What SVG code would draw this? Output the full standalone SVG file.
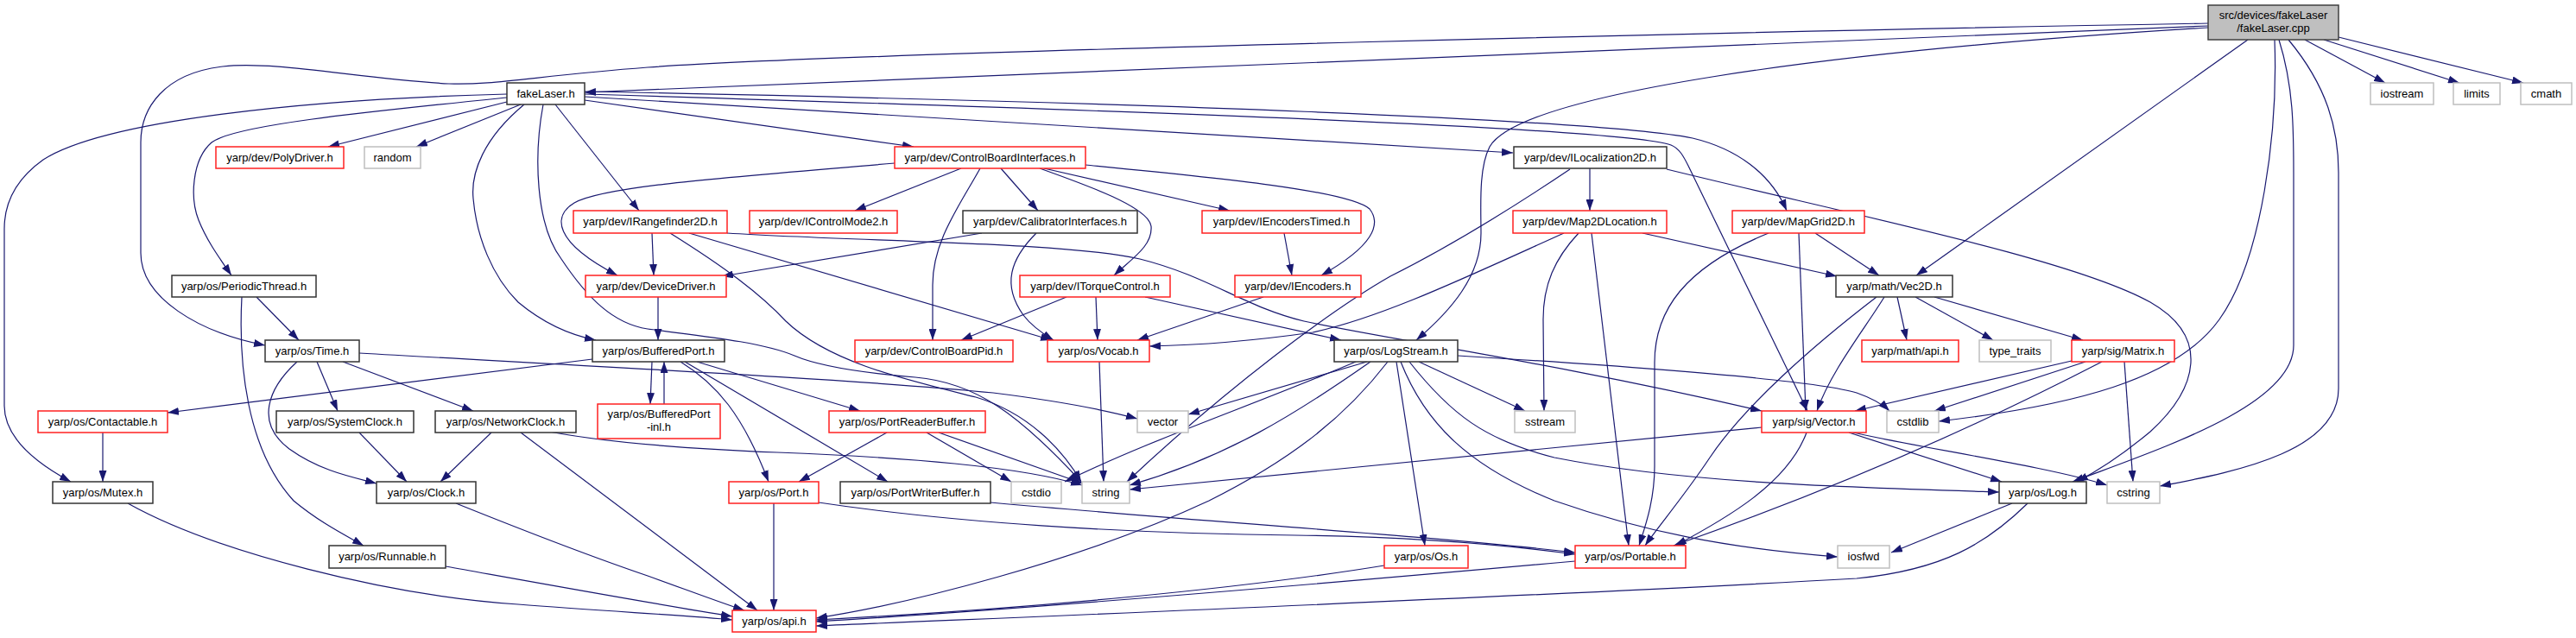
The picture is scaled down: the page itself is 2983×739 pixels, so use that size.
<svg xmlns="http://www.w3.org/2000/svg" width="2983" height="739" viewBox="0 0 2983 739">
<style>
.node rect{fill:#fff;stroke-width:1.5}
.b rect{stroke:#333}
.r rect{stroke:#ff2020}
.g rect{stroke:#bfbfbf}
.root rect{fill:#bfbfbf;stroke:#404040}
text{font-family:"Liberation Sans",Arial,sans-serif;font-size:13px;fill:#000;text-anchor:middle}
#edges path{fill:none;stroke:#191970;stroke-width:1.2;marker-end:url(#arr)}
</style>
<defs>
<marker id="arr" viewBox="0 0 13 9" refX="13" refY="4.5" markerWidth="13" markerHeight="9" markerUnits="userSpaceOnUse" orient="auto"><path d="M0,0 L13,4.5 L0,9 z" fill="#191970"/></marker>
</defs>
<rect width="2983" height="739" fill="#fff"/>
<g id="edges">
<path d="M2557,30 L677,107"/>
<path d="M2557,27 C2100,35 1000,60 750,78 C620,88 570,99 520,97 C420,92 320,70 258,77 C190,85 163,125 163,165 L163,293 C163,345 230,385 307,400"/>
<path d="M2557,32 C2100,60 1760,110 1725,170 C1712,195 1715,240 1715,270 C1715,320 1680,360 1640,394"/>
<path d="M2603,46 L2219,319"/>
<path d="M2634,46 C2638,150 2620,300 2570,370 C2520,440 2400,470 2245,488"/>
<path d="M2639,46 C2656,100 2656,150 2656,200 L2656,400 C2656,470 2500,520 2400,558"/>
<path d="M2650,46 C2695,100 2708,150 2708,200 L2708,450 C2708,520 2600,545 2501,563"/>
<path d="M2669,46 L2762,96"/>
<path d="M2691,46 L2848,96"/>
<path d="M2708,43 L2922,96"/>
<path d="M587,109 C350,115 120,140 50,185 C15,210 5,240 5,265 L5,470 C5,500 30,530 82,558"/>
<path d="M587,113 C420,130 270,145 245,165 C222,185 220,230 230,255 C240,280 255,300 268,319"/>
<path d="M587,118 L380,170"/>
<path d="M603,121 L482,170"/>
<path d="M607,121 C560,160 545,200 548,230 C552,275 570,320 600,350 C630,375 660,388 690,394"/>
<path d="M629,121 C618,180 620,260 650,300 C680,345 710,375 750,381 C800,388 880,395 920,412 C950,425 1000,432 1060,437 C1130,443 1180,480 1252,558"/>
<path d="M643,121 L740,244"/>
<path d="M677,116 L1058,170"/>
<path d="M677,112 L1752,177"/>
<path d="M677,109 C1300,128 1880,148 1935,168 C1945,172 1950,182 1955,192 L2093,476"/>
<path d="M677,106 C1300,118 1850,138 1960,160 C2010,172 2050,200 2069,244"/>
<path d="M1036,189 C850,205 700,215 665,235 C640,250 640,280 715,319"/>
<path d="M1113,195 L990,244"/>
<path d="M1135,195 C1110,240 1080,280 1080,330 L1080,394"/>
<path d="M1159,195 L1202,244"/>
<path d="M1204,195 C1260,215 1330,240 1333,262 C1335,285 1310,300 1290,319"/>
<path d="M1209,195 L1424,244"/>
<path d="M1257,191 C1400,205 1560,220 1586,242 C1600,260 1590,285 1530,319"/>
<path d="M1841,195 L1841,244"/>
<path d="M1818,196 C1760,235 1690,280 1610,320 C1540,360 1420,450 1305,558"/>
<path d="M1930,196 C2150,250 2400,300 2490,350 C2560,390 2545,450 2490,500 C2460,525 2430,545 2405,558"/>
<path d="M1811,270 C1700,320 1600,368 1520,385 C1450,395 1380,400 1331,401"/>
<path d="M1828,270 C1800,300 1787,330 1787,370 L1788,476"/>
<path d="M1843,270 L1886,632"/>
<path d="M1902,270 L2127,320"/>
<path d="M2048,270 C1950,310 1916,360 1916,420 L1916,540 C1916,580 1905,610 1898,632"/>
<path d="M2083,270 L2091,476"/>
<path d="M2102,270 L2176,319"/>
<path d="M2173,344 C2100,400 2020,470 1980,530 C1950,575 1920,610 1905,632"/>
<path d="M2182,344 C2160,380 2120,430 2104,476"/>
<path d="M2197,344 L2208,394"/>
<path d="M2218,344 L2308,394"/>
<path d="M2240,344 L2412,394"/>
<path d="M2399,418 L2148,476"/>
<path d="M2415,419 L2240,476"/>
<path d="M2434,419 Q2200,540 1938,632"/>
<path d="M2460,419 L2470,558"/>
<path d="M2040,495 L1308,567"/>
<path d="M2092,501 C2070,560 2000,600 1940,632"/>
<path d="M2141,501 L2318,558"/>
<path d="M2146,501 C2230,520 2370,540 2440,562"/>
<path d="M1583,419 L1376,480"/>
<path d="M1643,419 L1766,476"/>
<path d="M1688,412 C1900,425 2100,440 2150,455 C2170,462 2180,468 2188,476"/>
<path d="M1570,419 C1450,470 1330,510 1233,558"/>
<path d="M1587,419 C1500,480 1420,530 1308,562"/>
<path d="M1607,419 C1560,480 1500,530 1400,580 C1250,650 1050,700 945,716"/>
<path d="M1617,419 L1650,632"/>
<path d="M1622,419 C1650,490 1700,540 1800,580 C1900,615 2000,635 2128,645"/>
<path d="M1632,419 C1680,480 1720,510 1800,530 C1950,560 2150,565 2315,570"/>
<path d="M1235,344 L1113,394"/>
<path d="M1269,344 L1271,394"/>
<path d="M1326,344 L1553,394"/>
<path d="M1463,344 L1317,394"/>
<path d="M1487,270 L1496,319"/>
<path d="M1137,270 L836,320"/>
<path d="M1200,270 C1170,300 1160,330 1185,365 C1195,378 1210,388 1220,394"/>
<path d="M755,270 L757,319"/>
<path d="M776,270 C840,310 880,340 910,372 C960,420 1050,440 1130,460 C1190,478 1230,520 1252,558"/>
<path d="M798,270 L1218,394"/>
<path d="M842,270 C1000,280 1230,280 1320,300 C1400,320 1440,355 1510,372 C1600,392 1800,420 2040,476"/>
<path d="M762,344 L762,394"/>
<path d="M755,419 L753,468"/>
<path d="M769,468 L769,419"/>
<path d="M686,416 L194,478"/>
<path d="M788,419 C830,445 860,480 890,558"/>
<path d="M793,419 L1028,558"/>
<path d="M807,419 L996,476"/>
<path d="M1027,501 L925,558"/>
<path d="M1073,501 L1171,558"/>
<path d="M1087,501 L1254,560"/>
<path d="M896,583 L896,707"/>
<path d="M948,582 C1100,605 1300,618 1500,620 C1650,622 1750,632 1824,642"/>
<path d="M1147,582 C1400,605 1650,620 1824,640"/>
<path d="M569,501 L510,558"/>
<path d="M603,501 L877,707"/>
<path d="M636,500 C700,512 800,520 900,524 C1050,530 1180,540 1253,562"/>
<path d="M344,419 C310,450 295,490 335,520 C370,545 405,552 436,560"/>
<path d="M367,419 L391,476"/>
<path d="M397,419 L548,476"/>
<path d="M416,409 C700,425 1000,440 1150,455 C1230,465 1280,475 1317,485"/>
<path d="M416,501 L471,558"/>
<path d="M297,344 L346,394"/>
<path d="M280,344 C276,420 285,520 340,580 C370,605 400,620 421,632"/>
<path d="M119,501 L119,558"/>
<path d="M148,583 C250,640 450,690 600,700 C700,708 800,713 848,718"/>
<path d="M528,583 C620,620 700,650 750,667 C800,685 840,700 862,707"/>
<path d="M516,656 C650,680 760,700 848,714"/>
<path d="M1603,655 C1450,680 1200,705 945,718"/>
<path d="M1824,650 C1600,670 1200,705 945,720"/>
<path d="M2348,583 C2300,630 2250,660 2150,670 C1800,690 1300,710 945,725"/>
<path d="M2330,583 L2190,640"/>
<path d="M1273,419 L1278,558"/>
</g>
<g id="n_cpp" class="node root"><rect x="2557" y="6" width="151" height="40"/><text x="2632.5" y="21.5">src/devices/fakeLaser</text><text x="2632.5" y="36.5">/fakeLaser.cpp</text></g>
<g id="n_fakeLaser_h" class="node b"><rect x="587" y="96" width="90" height="25"/><text x="632" y="112.5">fakeLaser.h</text></g>
<g id="n_iostream" class="node g"><rect x="2745" y="96" width="73" height="25"/><text x="2781.5" y="112.5">iostream</text></g>
<g id="n_limits" class="node g"><rect x="2841" y="96" width="54" height="25"/><text x="2868" y="112.5">limits</text></g>
<g id="n_cmath" class="node g"><rect x="2919" y="96" width="59" height="25"/><text x="2948.5" y="112.5">cmath</text></g>
<g id="n_PolyDriver" class="node r"><rect x="250" y="170" width="148" height="25"/><text x="324" y="186.5">yarp/dev/PolyDriver.h</text></g>
<g id="n_random" class="node g"><rect x="422" y="170" width="65" height="25"/><text x="454.5" y="186.5">random</text></g>
<g id="n_ControlBoardInterfaces" class="node r"><rect x="1036" y="170" width="221" height="25"/><text x="1146.5" y="186.5">yarp/dev/ControlBoardInterfaces.h</text></g>
<g id="n_ILocalization2D" class="node b"><rect x="1753" y="170" width="177" height="25"/><text x="1841.5" y="186.5">yarp/dev/ILocalization2D.h</text></g>
<g id="n_IRangefinder2D" class="node r"><rect x="664" y="244" width="178" height="26"/><text x="753" y="261">yarp/dev/IRangefinder2D.h</text></g>
<g id="n_IControlMode2" class="node r"><rect x="868" y="244" width="171" height="26"/><text x="953.5" y="261">yarp/dev/IControlMode2.h</text></g>
<g id="n_CalibratorInterfaces" class="node b"><rect x="1115" y="244" width="202" height="26"/><text x="1216" y="261">yarp/dev/CalibratorInterfaces.h</text></g>
<g id="n_IEncodersTimed" class="node r"><rect x="1392" y="244" width="184" height="26"/><text x="1484" y="261">yarp/dev/IEncodersTimed.h</text></g>
<g id="n_Map2DLocation" class="node r"><rect x="1752" y="244" width="178" height="26"/><text x="1841" y="261">yarp/dev/Map2DLocation.h</text></g>
<g id="n_MapGrid2D" class="node r"><rect x="2006" y="244" width="153" height="26"/><text x="2082.5" y="261">yarp/dev/MapGrid2D.h</text></g>
<g id="n_PeriodicThread" class="node b"><rect x="199" y="319" width="167" height="25"/><text x="282.5" y="335.5">yarp/os/PeriodicThread.h</text></g>
<g id="n_DeviceDriver" class="node r"><rect x="678" y="319" width="163" height="25"/><text x="759.5" y="335.5">yarp/dev/DeviceDriver.h</text></g>
<g id="n_ITorqueControl" class="node r"><rect x="1181" y="319" width="174" height="25"/><text x="1268" y="335.5">yarp/dev/ITorqueControl.h</text></g>
<g id="n_IEncoders" class="node r"><rect x="1430" y="319" width="146" height="25"/><text x="1503" y="335.5">yarp/dev/IEncoders.h</text></g>
<g id="n_Vec2D" class="node b"><rect x="2126" y="319" width="135" height="25"/><text x="2193.5" y="335.5">yarp/math/Vec2D.h</text></g>
<g id="n_Time" class="node b"><rect x="307" y="394" width="109" height="25"/><text x="361.5" y="410.5">yarp/os/Time.h</text></g>
<g id="n_BufferedPort" class="node b"><rect x="686" y="394" width="153" height="25"/><text x="762.5" y="410.5">yarp/os/BufferedPort.h</text></g>
<g id="n_ControlBoardPid" class="node r"><rect x="990" y="394" width="183" height="25"/><text x="1081.5" y="410.5">yarp/dev/ControlBoardPid.h</text></g>
<g id="n_Vocab" class="node r"><rect x="1213" y="394" width="118" height="25"/><text x="1272" y="410.5">yarp/os/Vocab.h</text></g>
<g id="n_LogStream" class="node b"><rect x="1545" y="394" width="143" height="25"/><text x="1616.5" y="410.5">yarp/os/LogStream.h</text></g>
<g id="n_math_api" class="node r"><rect x="2156" y="394" width="112" height="25"/><text x="2212" y="410.5">yarp/math/api.h</text></g>
<g id="n_type_traits" class="node g"><rect x="2292" y="394" width="83" height="25"/><text x="2333.5" y="410.5">type_traits</text></g>
<g id="n_Matrix" class="node r"><rect x="2399" y="394" width="119" height="25"/><text x="2458.5" y="410.5">yarp/sig/Matrix.h</text></g>
<g id="n_Contactable" class="node r"><rect x="44" y="476" width="150" height="25"/><text x="119" y="492.5">yarp/os/Contactable.h</text></g>
<g id="n_SystemClock" class="node b"><rect x="320" y="476" width="159" height="25"/><text x="399.5" y="492.5">yarp/os/SystemClock.h</text></g>
<g id="n_NetworkClock" class="node b"><rect x="504" y="476" width="163" height="25"/><text x="585.5" y="492.5">yarp/os/NetworkClock.h</text></g>
<g id="n_BufferedPort_inl" class="node r"><rect x="692" y="468" width="142" height="40"/><text x="763" y="484">yarp/os/BufferedPort</text><text x="763" y="499">-inl.h</text></g>
<g id="n_PortReaderBuffer" class="node r"><rect x="960" y="476" width="181" height="25"/><text x="1050.5" y="492.5">yarp/os/PortReaderBuffer.h</text></g>
<g id="n_vector" class="node g"><rect x="1317" y="476" width="59" height="25"/><text x="1346.5" y="492.5">vector</text></g>
<g id="n_sstream" class="node g"><rect x="1754" y="476" width="70" height="25"/><text x="1789" y="492.5">sstream</text></g>
<g id="n_Vector" class="node r"><rect x="2040" y="476" width="121" height="25"/><text x="2100.5" y="492.5">yarp/sig/Vector.h</text></g>
<g id="n_cstdlib" class="node g"><rect x="2185" y="476" width="60" height="25"/><text x="2215" y="492.5">cstdlib</text></g>
<g id="n_Mutex" class="node b"><rect x="61" y="558" width="116" height="25"/><text x="119" y="574.5">yarp/os/Mutex.h</text></g>
<g id="n_Clock" class="node b"><rect x="436" y="558" width="115" height="25"/><text x="493.5" y="574.5">yarp/os/Clock.h</text></g>
<g id="n_Port" class="node r"><rect x="844" y="558" width="104" height="25"/><text x="896" y="574.5">yarp/os/Port.h</text></g>
<g id="n_PortWriterBuffer" class="node b"><rect x="973" y="558" width="174" height="25"/><text x="1060" y="574.5">yarp/os/PortWriterBuffer.h</text></g>
<g id="n_cstdio" class="node g"><rect x="1171" y="558" width="58" height="25"/><text x="1200" y="574.5">cstdio</text></g>
<g id="n_string" class="node g"><rect x="1253" y="558" width="55" height="25"/><text x="1280.5" y="574.5">string</text></g>
<g id="n_Log" class="node b"><rect x="2315" y="558" width="101" height="25"/><text x="2365.5" y="574.5">yarp/os/Log.h</text></g>
<g id="n_cstring" class="node g"><rect x="2440" y="558" width="61" height="25"/><text x="2470.5" y="574.5">cstring</text></g>
<g id="n_Runnable" class="node b"><rect x="381" y="632" width="135" height="26"/><text x="448.5" y="649">yarp/os/Runnable.h</text></g>
<g id="n_Os" class="node r"><rect x="1603" y="632" width="97" height="26"/><text x="1651.5" y="649">yarp/os/Os.h</text></g>
<g id="n_Portable" class="node r"><rect x="1824" y="632" width="128" height="26"/><text x="1888" y="649">yarp/os/Portable.h</text></g>
<g id="n_iosfwd" class="node g"><rect x="2128" y="632" width="60" height="26"/><text x="2158" y="649">iosfwd</text></g>
<g id="n_api" class="node r"><rect x="848" y="707" width="97" height="25"/><text x="896.5" y="723.5">yarp/os/api.h</text></g>
</svg>
